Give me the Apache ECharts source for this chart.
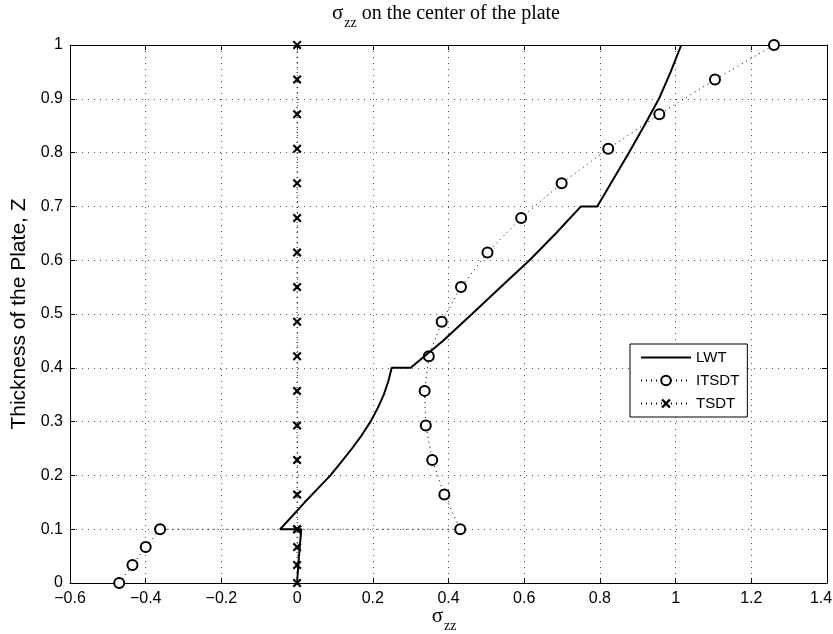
<!DOCTYPE html>
<html><head><meta charset="utf-8">
<script src="https://cdn.jsdelivr.net/npm/echarts@6/dist/echarts.min.js"></script>
<style>html,body{margin:0;padding:0;background:#fff}#c{width:833px;height:634px}</style>
</head><body><div id="c"></div>
<script>
// Tick labels
const xTicks = [-0.6, -0.4, -0.2, 0, 0.2, 0.4, 0.6, 0.8, 1, 1.2, 1.4];
const yTicks = [0, 0.1, 0.2, 0.3, 0.4, 0.5, 0.6, 0.7, 0.8, 0.9, 1];

// LWT (solid line)
const lwtX = [0, 0.003, 0.007, 0.011, -0.045, -0.012, 0.02, 0.054, 0.088, 0.117, 0.145, 0.171, 0.194, 0.213, 0.229, 0.241, 0.25, 0.30, 0.385, 0.462, 0.538, 0.614, 0.684, 0.75, 0.793, 0.835, 0.877, 0.917, 0.956, 0.987, 1.015];
const lwtZ = [0, 0.033, 0.067, 0.1, 0.1, 0.125, 0.15, 0.175, 0.2, 0.225, 0.25, 0.275, 0.3, 0.325, 0.35, 0.375, 0.4, 0.4, 0.45, 0.5, 0.55, 0.6, 0.65, 0.7, 0.7, 0.75, 0.8, 0.85, 0.9, 0.95, 1.0];

// ITSDT (dotted, circles)
const itsdtX = [-0.47, -0.435, -0.40, -0.362, 0.431, 0.389, 0.357, 0.340, 0.337, 0.348, 0.382, 0.433, 0.503, 0.592, 0.699, 0.822, 0.957, 1.104, 1.26];
const itsdtZ = [0, 0.0333, 0.0667, 0.1, 0.1, 0.1643, 0.2286, 0.2929, 0.3571, 0.4214, 0.4857, 0.55, 0.6143, 0.6786, 0.7429, 0.8071, 0.8714, 0.9357, 1.0];

// TSDT (dotted, x marks)
const tsdtX = [0, 0, 0, 0, 0, 0, 0, 0, 0, 0, 0, 0, 0, 0, 0, 0, 0, 0, 0];
const tsdtZ = [0, 0.0333, 0.0667, 0.1, 0.1, 0.1643, 0.2286, 0.2929, 0.3571, 0.4214, 0.4857, 0.55, 0.6143, 0.6786, 0.7429, 0.8071, 0.8714, 0.9357, 1.0];

const pairs = (xs, zs) => xs.map((x, i) => [x, zs[i]]);
const fmt = v => (Math.round(v * 10) / 10).toString().replace('-', '\u2212');
const xMax = xTicks[xTicks.length - 1];
const fmtX = v => (Math.abs(v - xMax) < 1e-9 ? '{edge|' + fmt(v) + '}' : fmt(v));
const XMARK = 'path://M1.7,0 L5,3.3 L8.3,0 L10,1.7 L6.7,5 L10,8.3 L8.3,10 L5,6.7 L1.7,10 L0,8.3 L3.3,5 L0,1.7 Z';
const SANS = 'Liberation Sans, Arial, Helvetica, sans-serif';
const SERIF = 'Liberation Serif, Times New Roman, serif';

const chart = echarts.init(document.getElementById('c'), null, {renderer: 'canvas'});
const gridLine = {show: true, lineStyle: {color: '#555', width: 1, type: [1, 5]}};
const frameLine = {show: true, onZero: false, lineStyle: {color: '#000', width: 1}};
const tick = {show: true, inside: true, length: 5, lineStyle: {color: '#000', width: 1}};
const subRich = {
  s: {fontFamily: SERIF, fontSize: 21, fontWeight: 'normal', color: '#000', verticalAlign: 'bottom', padding: [0, 0, 6, 0]},
  sub: {fontFamily: SERIF, fontSize: 14, fontWeight: 'normal', color: '#000', verticalAlign: 'bottom', padding: [0, 0, 0, 1]},
  t: {fontFamily: SERIF, fontSize: 20, fontWeight: 'normal', color: '#000', verticalAlign: 'bottom', padding: [0, 0, 6, 0]}
};

chart.setOption({
  animation: false,
  backgroundColor: '#fff',
  title: {
    text: '{s|\u03c3}{sub|zz}{t| on the center of the plate}',
    left: 446,
    textAlign: 'center',
    top: 0,
    padding: [3, 0, 3, 0],
    textStyle: {fontWeight: 'normal', rich: subRich}
  },
  graphic: [{
    type: 'text', z: 10,
    style: {
      text: '{s|\u03c3}{sub|zz}',
      x: 444, y: 633,
      align: 'center', verticalAlign: 'bottom',
      rich: subRich
    }
  }],
  grid: {left: 70, top: 45, width: 757, height: 538, containLabel: false, outerBoundsMode: 'none'},
  xAxis: [{
    type: 'value', min: xTicks[0], max: xMax, interval: 0.2,
    position: 'bottom',
    axisLine: frameLine, axisTick: tick,
    axisLabel: {color: '#000', fontSize: 16, fontFamily: SANS, margin: 8, formatter: fmtX,
      rich: {edge: {color: '#000', fontSize: 16, fontFamily: SANS, padding: [0, 12, 0, 0]}}},
    splitLine: gridLine
  }, {
    type: 'value', min: xTicks[0], max: xMax, interval: 0.2,
    position: 'top',
    axisLine: frameLine, axisTick: tick,
    axisLabel: {show: false}, splitLine: {show: false}
  }],
  yAxis: [{
    type: 'value', min: yTicks[0], max: yTicks[yTicks.length - 1], interval: 0.1,
    position: 'left',
    axisLine: frameLine, axisTick: tick,
    axisLabel: {color: '#000', fontSize: 16, fontFamily: SANS, margin: 7, formatter: fmt},
    splitLine: gridLine,
    name: 'Thickness of the Plate, Z',
    nameLocation: 'middle', nameGap: 40, nameRotate: 90,
    nameTextStyle: {color: '#000', fontSize: 21, fontFamily: SANS}
  }, {
    type: 'value', min: yTicks[0], max: yTicks[yTicks.length - 1], interval: 0.1,
    position: 'right',
    axisLine: frameLine, axisTick: tick,
    axisLabel: {show: false}, splitLine: {show: false}
  }],
  legend: {
    data: [{name: 'LWT', itemStyle: {opacity: 0}}, 'ITSDT', 'TSDT'],
    orient: 'vertical',
    left: 630, top: 344,
    itemWidth: 50, itemHeight: 12, itemGap: 8,
    padding: [6, 8, 6, 10],
    backgroundColor: '#fff',
    borderColor: '#000', borderWidth: 1, borderRadius: 0,
    textStyle: {color: '#000', fontSize: 15, fontFamily: SANS}
  },
  series: [{
    name: 'LWT', type: 'line', data: pairs(lwtX, lwtZ),
    symbol: 'none', clip: false, z: 4,
    lineStyle: {color: '#000', width: 2},
    itemStyle: {color: '#000'}
  }, {
    name: 'ITSDT', type: 'line', data: pairs(itsdtX, itsdtZ),
    symbol: 'emptyCircle', symbolSize: 10, clip: false, z: 3,
    lineStyle: {color: '#000', width: 1, type: [1, 4]},
    itemStyle: {color: '#000', borderColor: '#000', borderWidth: 2}
  }, {
    name: 'TSDT', type: 'line', data: pairs(tsdtX, tsdtZ),
    symbol: XMARK, symbolSize: 9, clip: false, z: 3,
    lineStyle: {color: '#000', width: 1, type: [1, 4]},
    itemStyle: {color: '#000'}
  }]
});
</script></body></html>
